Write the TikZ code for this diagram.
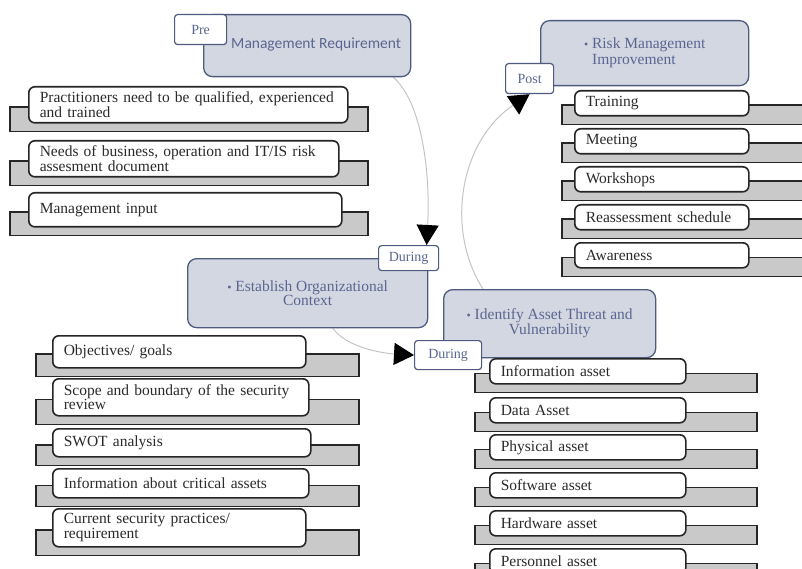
\documentclass[tikz,border=0pt]{standalone}
\usepackage{fontspec}
\setmainfont{Liberation Serif}
\newfontfamily\calibfont{Carlito}
\usepackage{xcolor}
\usepackage{tikz}
\usetikzlibrary{arrows.meta, calc, backgrounds}

\definecolor{grpfill}{HTML}{D3D7E2}
\definecolor{grpline}{HTML}{4E5B7E}
\definecolor{grptext}{HTML}{5A6690}
\definecolor{itemtext}{HTML}{2A2A2A}
\definecolor{barfill}{HTML}{C9C9C9}
\definecolor{arcline}{HTML}{C4C4C4}

\newcommand{\bul}{{\fontsize{12}{12}\selectfont\textbullet}}

\begin{document}
\begin{tikzpicture}[
    x=1pt, y=-1pt,
    grp/.style={draw=grpline, line width=1.3pt, fill=grpfill, rounded corners=9pt,
                anchor=north west, inner sep=0pt, text=grptext,
                font=\fontsize{15.5}{15}\selectfont},
    tag/.style={draw=grpline, line width=1.2pt, fill=white, rounded corners=3pt,
                anchor=north west, inner sep=0pt, text=grptext,
                font=\fontsize{14}{14}\selectfont},
    item/.style={draw=black!85, line width=1.6pt, fill=white, rounded corners=6pt,
                 anchor=north west, inner xsep=11pt, inner ysep=0pt, align=left,
                 text=itemtext, font=\fontsize{15.5}{12}\selectfont, text width=#1},
    bar/.style={draw=black!85, line width=1.6pt, fill=barfill},
    flow/.style={draw=arcline, line width=1pt,
                 -{Triangle[length=20pt, width=22pt, color=black]}},
  ]
  \useasboundingbox (0,0) rectangle (802,569);
  \clip (0,0) rectangle (802,569);

  % phase boxes
  \node[grp, minimum width=207, minimum height=62, font=\calibfont\fontsize{15.5}{15}\selectfont]
        (mreq) at (203,14) {\raisebox{4pt}{\hspace*{18pt}Management Requirement}};
  \node[grp, minimum width=208, minimum height=65, align=left, font=\fontsize{15.5}{16}\selectfont]
        (rmi) at (540,20) {\bul\ Risk Management\\\phantom{\bul\ }Improvement};
  \node[grp, minimum width=240, minimum height=69, align=center, font=\fontsize{15.5}{13}\selectfont]
        (eoc) at (187,258) {\bul\ Establish Organizational\\Context};
  \node[grp, minimum width=212, minimum height=68, align=center]
        (iat) at (443,289) {\bul\ Identify Asset Threat and\\Vulnerability};

  % phase tags
  \node[tag, minimum width=52, minimum height=30] (pre)  at (174,14)  {Pre};
  \node[tag, minimum width=48, minimum height=30] (post) at (505,63)  {Post};
  \node[tag, minimum width=60, minimum height=25] (dur1) at (378,245) {During};
  \node[tag, minimum width=67, minimum height=29] (dur2) at (414,340) {During};

  % management requirement items
  \node[item=297pt, minimum height=36] (mr1) at (28,86)  {Practitioners need to be qualified, experienced\\and trained};
  \node[item=288pt, minimum height=36] (mr2) at (28,140) {Needs of business, operation and IT/IS risk\\assesment document};
  \node[item=291pt, minimum height=34] (mr3) at (28,192) {Management input};

  % improvement items
  \node[item=152pt, minimum height=25] (ri1) at (574,90)  {Training};
  \node[item=152pt, minimum height=25] (ri2) at (574,128) {Meeting};
  \node[item=152pt, minimum height=25] (ri3) at (574,166) {Workshops};
  \node[item=152pt, minimum height=25] (ri4) at (574,204) {Reassessment schedule};
  \node[item=152pt, minimum height=25] (ri5) at (574,242) {Awareness};

  % context items
  \node[item=231pt, minimum height=32] (ec1) at (52,335) {Objectives/ goals};
  \node[item=234pt, minimum height=37] (ec2) at (52,378) {Scope and boundary of the security\\review};
  \node[item=236pt, minimum height=28] (ec3) at (52,428) {SWOT analysis};
  \node[item=234pt, minimum height=29] (ec4) at (52,468) {Information about critical assets};
  \node[item=231pt, minimum height=38] (ec5) at (52,508) {Current security practices/\\requirement};

  % asset items
  \node[item=174pt, minimum height=25] (ia1) at (489,358) {Information asset};
  \node[item=174pt, minimum height=25] (ia2) at (489,397) {Data Asset};
  \node[item=174pt, minimum height=25] (ia3) at (489,434) {Physical asset};
  \node[item=174pt, minimum height=25] (ia4) at (489,472) {Software asset};
  \node[item=174pt, minimum height=25] (ia5) at (489,510) {Hardware asset};
  \node[item=174pt, minimum height=25] (ia6) at (489,548) {Personnel asset};

  % right ends of the grey bars
  \coordinate (mrend) at (368,0);
  \coordinate (riend) at (815,0);
  \coordinate (ecend) at (359,0);
  \coordinate (iaend) at (757,0);

  \begin{scope}[on background layer]
    \clip (0,0) rectangle (802,569);
    \foreach \n/\l/\e in {mr1/18/mrend, mr2/18/mrend, mr3/18/mrend,
                          ri1/12/riend, ri2/12/riend, ri3/12/riend, ri4/12/riend, ri5/12/riend,
                          ec1/16/ecend, ec2/16/ecend, ec3/16/ecend, ec4/16/ecend, ec5/16/ecend,
                          ia1/14/iaend, ia2/14/iaend, ia3/14/iaend, ia4/14/iaend, ia5/14/iaend, ia6/14/iaend}
      \draw[bar] ($(\n.west)+(-\l,2)$) rectangle ($(\n.south -| \e)+(0,8)$);

    % cycle arrows
    \draw[flow] ([xshift=-18pt]mreq.south east) .. controls +(28,24) and +(4,-74) .. ([xshift=18pt]dur1.north);
    \draw[flow] ([xshift=146pt]eoc.south west) .. controls +(12,18) and +(-34,-2) .. (dur2.west);
    \draw[flow] ([xshift=40pt]iat.north west) .. controls +(-38,-59) and +(-70,47) .. (post.south);
  \end{scope}
\end{tikzpicture}
\end{document}
